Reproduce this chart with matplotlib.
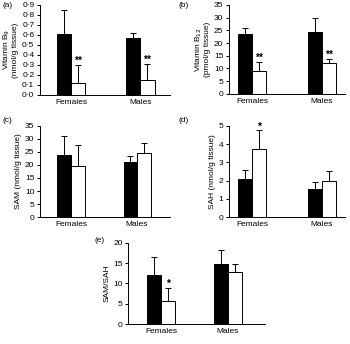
import matplotlib
matplotlib.use('Agg')
from matplotlib import pyplot as plt
from matplotlib.ticker import FuncFormatter
import numpy as np

groups = ['Females', 'Males']

b9_ctrl = [0.61, 0.565]
b9_ctrl_err = [0.24, 0.055]
b9_def = [0.12, 0.15]
b9_def_err = [0.18, 0.16]
b9_marks = ['**', '**']

b12_ctrl = [23.7, 24.5]
b12_ctrl_err = [2.3, 5.2]
b12_def = [9.0, 12.0]
b12_def_err = [3.5, 1.7]
b12_marks = ['**', '**']

sam_ctrl = [24.0, 21.0]
sam_ctrl_err = [7.0, 2.5]
sam_def = [19.5, 24.5]
sam_def_err = [8.0, 3.8]
sam_marks = ['', '']

sah_ctrl = [2.1, 1.55]
sah_ctrl_err = [0.5, 0.4]
sah_def = [3.75, 2.0]
sah_def_err = [1.0, 0.5]
sah_marks = ['*', '']

ratio_ctrl = [12.0, 14.7]
ratio_ctrl_err = [4.4, 3.6]
ratio_def = [5.7, 12.7]
ratio_def_err = [3.2, 2.0]
ratio_marks = ['*', '']

fs = 6.0
plt.rcParams['font.family'] = 'Liberation Sans'

fig = plt.figure(figsize=(3.5, 3.44), dpi=100)


def dot_fmt(dec):
    return FuncFormatter(lambda v, p: f"{v:.{dec}f}".replace('.', '\u00b7'))


def panel(rect, xl, ctrl, ctrl_err, deficient, def_err, marks, ylim, step, dec,
          ylabel, tag, tagpos):
    ax = fig.add_axes(rect)
    x = np.arange(len(groups))
    w = 0.205
    ax.bar(x - w/2, ctrl, w, color='black', edgecolor='black', linewidth=0.7)
    ax.bar(x + w/2, deficient, w, color='white', edgecolor='black', linewidth=0.7)
    ax.errorbar(x - w/2, ctrl, yerr=[np.zeros(2), ctrl_err], fmt='none',
                ecolor='black', elinewidth=0.7, capsize=2.2, capthick=0.7)
    ax.errorbar(x + w/2, deficient, yerr=[np.zeros(2), def_err], fmt='none',
                ecolor='black', elinewidth=0.7, capsize=2.2, capthick=0.7)
    for xi, v, e, m in zip(x, deficient, def_err, marks):
        if m:
            ax.text(xi + w/2, v + e - ylim*0.01, m, ha='center', va='bottom',
                    fontsize=7.5, fontweight='bold')
    ax.set_xlim(*xl)
    ax.set_ylim(0, ylim)
    ax.set_yticks(np.arange(0, ylim + step/2, step))
    ax.yaxis.set_major_formatter(dot_fmt(dec))
    ax.set_xticks(x)
    ax.set_xticklabels(groups, fontsize=fs)
    ax.tick_params(axis='x', length=0, pad=3)
    ax.tick_params(axis='y', length=2, width=0.7, labelsize=fs, pad=2)
    for s in ['top', 'right']:
        ax.spines[s].set_visible(False)
    for s in ['left', 'bottom']:
        ax.spines[s].set_linewidth(0.7)
    ax.set_ylabel(ylabel, fontsize=fs, labelpad=2, linespacing=1.0)
    fig.text(tagpos[0], tagpos[1], tag, fontsize=fs, ha='left', va='top')
    return ax


panel([0.114, 0.724, 0.372, 0.262], (-0.45, 1.43), b9_ctrl, b9_ctrl_err, b9_def,
      b9_def_err, b9_marks, 0.9, 0.1, 1, 'Vitamin B$_9$\n(nmol/g tissue)', '(a)',
      (0.006, 0.995))
panel([0.654, 0.727, 0.332, 0.259], (-0.33, 1.33), b12_ctrl, b12_ctrl_err, b12_def,
      b12_def_err, b12_marks, 35, 5, 0, 'Vitamin B$_{12}$\n(pmol/g tissue)', '(b)',
      (0.51, 0.995))
panel([0.114, 0.369, 0.372, 0.265], (-0.47, 1.5), sam_ctrl, sam_ctrl_err, sam_def,
      sam_def_err, sam_marks, 35, 5, 0, 'SAM (nmol/g tissue)', '(c)',
      (0.006, 0.66))
panel([0.654, 0.369, 0.332, 0.265], (-0.33, 1.33), sah_ctrl, sah_ctrl_err, sah_def,
      sah_def_err, sah_marks, 5, 1, 0, 'SAH (nmol/g tissue)', '(d)',
      (0.51, 0.66))
panel([0.366, 0.058, 0.391, 0.236], (-0.49, 1.55), ratio_ctrl, ratio_ctrl_err, ratio_def,
      ratio_def_err, ratio_marks, 20, 5, 0, 'SAM/SAH', '(e)',
      (0.27, 0.31))

fig.savefig('out.png', dpi=100)
